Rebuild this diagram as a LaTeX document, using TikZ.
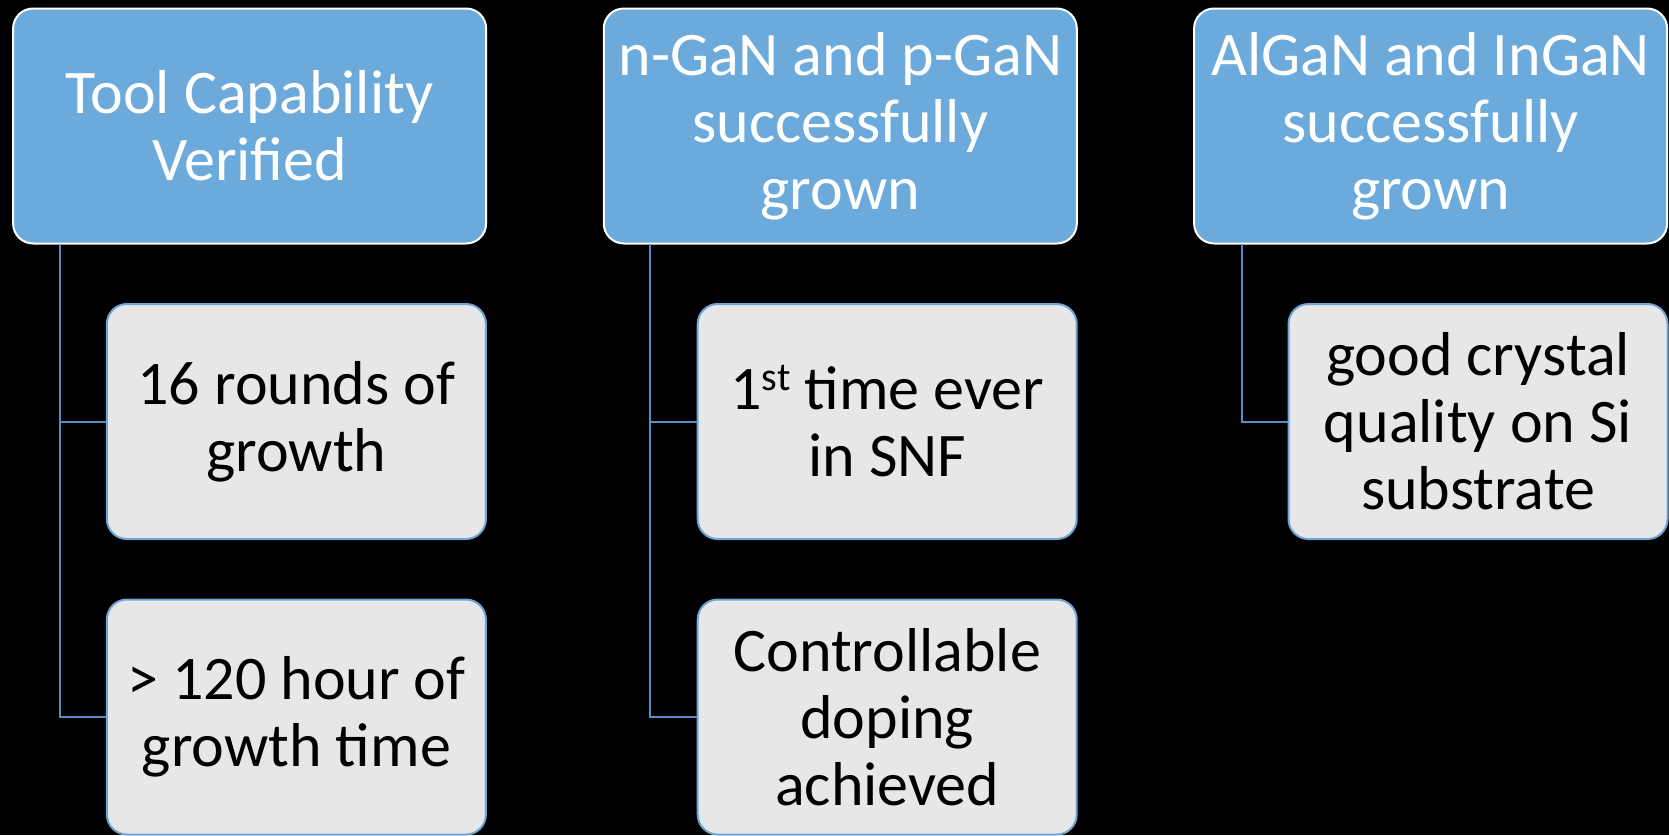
\documentclass[tikz,border=0pt]{standalone}
\usepackage{fontspec}
\setmainfont{Carlito}
\definecolor{hdrblue}{RGB}{107,170,219}
\definecolor{childgray}{RGB}{231,231,231}
\definecolor{edgeblue}{RGB}{111,166,215}
\definecolor{linkblue}{RGB}{84,141,196}
\newcommand{\supst}{\raisebox{19pt}{\fontsize{40}{40}\selectfont st}}
\tikzset{
  hdr/.style={draw=white, line width=2pt, fill=hdrblue, rounded corners=20pt,
    minimum width=473pt, minimum height=235pt, align=center,
    text=white, inner sep=0pt, font=\fontsize{62}{67}\selectfont},
  child/.style={draw=edgeblue, line width=2pt, fill=childgray, rounded corners=20pt,
    minimum width=379pt, minimum height=235pt, align=center,
    text=black, inner sep=0pt, font=\fontsize{62}{67}\selectfont},
  link/.style={draw=linkblue, line width=2pt}
}
\begin{document}
\begin{tikzpicture}[x=1pt,y=-1pt]
\fill[black] (0,0) rectangle (1669,835);
\useasboundingbox (0,0) rectangle (1669,835);

\node[hdr] (h1) at (249.6,126) {Tool Capability\\Verified};
\node[hdr] (h2) at (840.3,126) {n-GaN and p-GaN\\successfully\\grown};
\node[hdr] (h3) at (1430.6,126) {AlGaN and InGaN\\successfully\\grown};

\node[child] (c11) at (296.4,421.5) {16 rounds of\\growth};
\node[child] (c12) at (296.4,717) {> 120 hour of\\growth time};
\node[child] (c21) at (887.2,421.5) {1\supst{} time ever\\in SNF};
\node[child] (c22) at (887.2,717) {Controllable\\doping\\achieved};
\node[child] (c31) at (1478,421.5) {good crystal\\quality on Si\\substrate};

\coordinate (v1) at (59.6,244);
\coordinate (v2) at (650.4,244);
\coordinate (v3) at (1242,244);

\draw[link] (v1) |- (c11.west);
\draw[link] (v1) |- (c12.west);
\draw[link] (v2) |- (c21.west);
\draw[link] (v2) |- (c22.west);
\draw[link] (v3) |- (c31.west);
\end{tikzpicture}
\end{document}
